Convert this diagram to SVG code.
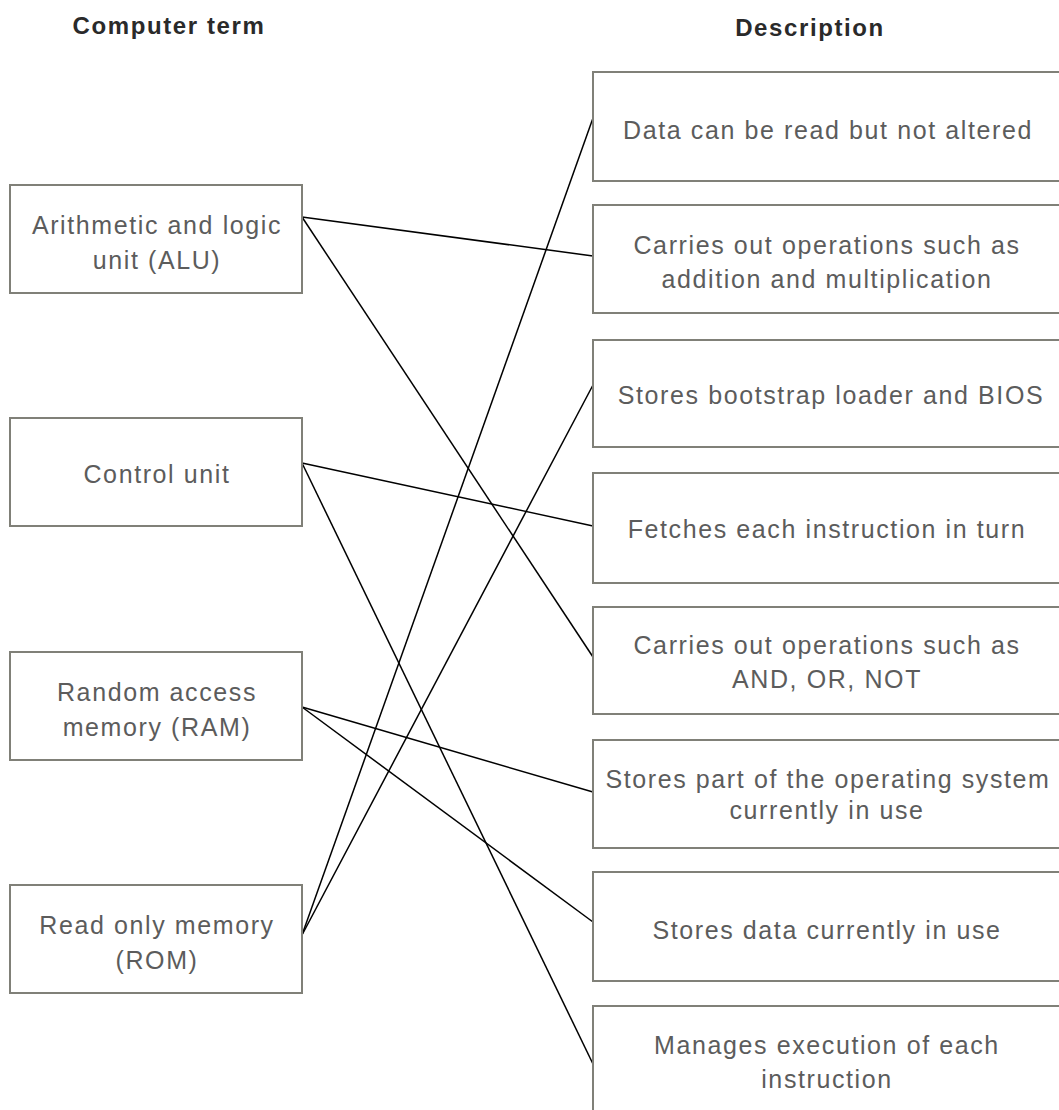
<svg xmlns="http://www.w3.org/2000/svg" width="1059" height="1110" viewBox="0 0 1059 1110">
<style>
.bg{fill:#fff}
.box{fill:#fff;stroke:#808078;stroke-width:2}
.t{font-family:"Liberation Sans",Arial,sans-serif;font-size:25px;letter-spacing:1.6px;fill:#5c5c5c;text-anchor:middle}
.h{font-family:"Liberation Sans",Arial,sans-serif;font-size:24px;font-weight:bold;letter-spacing:1.6px;fill:#2a2a2a;text-anchor:middle}
.c{stroke:#000;stroke-width:1.5;fill:none}
</style>
<rect class="bg" x="0" y="0" width="1059" height="1110"/>
<text class="h" x="169" y="34">Computer term</text>
<text class="h" x="810" y="36">Description</text>
<g id="connectors">
<line class="c" x1="302" y1="217" x2="593" y2="256"/>
<line class="c" x1="302" y1="217" x2="593" y2="657"/>
<line class="c" x1="302" y1="463" x2="593" y2="526"/>
<line class="c" x1="302" y1="463" x2="593" y2="1064"/>
<line class="c" x1="302" y1="707" x2="593" y2="792"/>
<line class="c" x1="302" y1="707" x2="593" y2="922"/>
<line class="c" x1="302" y1="935" x2="593" y2="118"/>
<line class="c" x1="302" y1="935" x2="593" y2="385"/>
</g>
<g id="alu"><rect class="box" x="10" y="185" width="292" height="108"/><text class="t" x="157" y="234">Arithmetic and logic</text><text class="t" x="157" y="269">unit (ALU)</text></g>
<g id="cu"><rect class="box" x="10" y="418" width="292" height="108"/><text class="t" x="157" y="483">Control unit</text></g>
<g id="ram"><rect class="box" x="10" y="652" width="292" height="108"/><text class="t" x="157" y="701">Random access</text><text class="t" x="157" y="736">memory (RAM)</text></g>
<g id="rom"><rect class="box" x="10" y="885" width="292" height="108"/><text class="t" x="157" y="934">Read only memory</text><text class="t" x="157" y="969">(ROM)</text></g>
<g id="d1"><rect class="box" x="593" y="72" width="480" height="109"/><text class="t" x="828" y="139">Data can be read but not altered</text></g>
<g id="d2"><rect class="box" x="593" y="205" width="480" height="108"/><text class="t" x="827" y="254">Carries out operations such as</text><text class="t" x="827" y="288">addition and multiplication</text></g>
<g id="d3"><rect class="box" x="593" y="340" width="480" height="107"/><text class="t" x="831" y="404">Stores bootstrap loader and BIOS</text></g>
<g id="d4"><rect class="box" x="593" y="473" width="480" height="110"/><text class="t" x="827" y="538">Fetches each instruction in turn</text></g>
<g id="d5"><rect class="box" x="593" y="607" width="480" height="107"/><text class="t" x="827" y="654">Carries out operations such as</text><text class="t" x="827" y="688">AND, OR, NOT</text></g>
<g id="d6"><rect class="box" x="593" y="740" width="480" height="108"/><text class="t" x="828" y="788" letter-spacing="1.3">Stores part of the operating system</text><text class="t" x="827" y="819">currently in use</text></g>
<g id="d7"><rect class="box" x="593" y="872" width="480" height="109"/><text class="t" x="827" y="939">Stores data currently in use</text></g>
<g id="d8"><rect class="box" x="593" y="1006" width="480" height="120"/><text class="t" x="827" y="1054">Manages execution of each</text><text class="t" x="827" y="1088">instruction</text></g>
</svg>
